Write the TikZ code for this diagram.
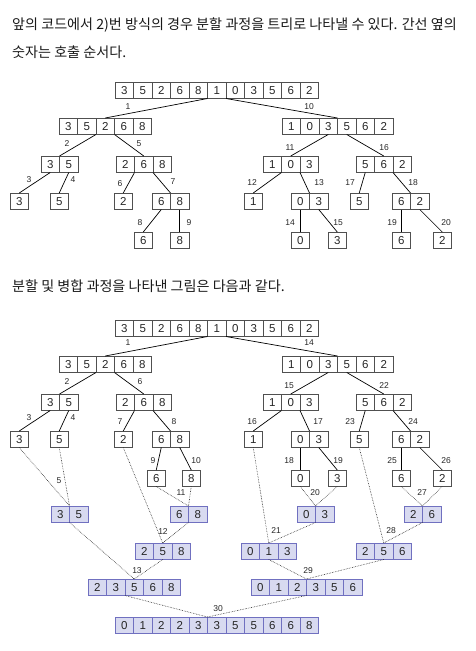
\documentclass[tikz,border=0pt]{standalone}
\usepackage{fontspec}
\setmainfont{Liberation Sans}
\newfontfamily\kofont{Noto Sans CJK KR}
\usetikzlibrary{positioning}

\definecolor{cellline}{RGB}{80,80,80}
\definecolor{mergefill}{RGB}{216,218,240}
\definecolor{mergeline}{RGB}{112,112,192}

\tikzset{
  cell/.style = {draw = cellline, line width = .9pt, minimum width = 18.5pt,
    minimum height = 16.5pt, inner sep = 0pt, outer sep = 0pt,
    font = \fontsize{11.5}{12}\selectfont, text = black!85},
  mcell/.style = {cell, draw = mergeline, fill = mergefill},
  split/.style = {line width = .7pt},
  merge/.style = {densely dotted, line width = .6pt, black!85},
  num/.style = {font = \fontsize{8.5}{9}\selectfont, inner sep = 0pt, text = black!85},
  kotext/.style = {font = \kofont\fontsize{14.1}{16}\selectfont, inner sep = 0pt,
    anchor = base west, text = black!90}
}

% one row of cells, named #2-1, #2-2, ...
\newcommand\arr[5][cell]{%
  \foreach \v [count = \i] in {#5}
    \node [#1, anchor = north west] (#2-\i) at ({#3 + (\i - 1) * 18.5}, #4) {\v};}

% split tree: #1 prefix, #2 shift down, #3 #4 x of the two leaves under 6|8
\newcommand\splittree[4]{%
  \begin{scope}[shift = {(0, #2)}]
    \arr{#1}{115}{82}{3,5,2,6,8,1,0,3,5,6,2}
    \arr{#10}{59}{118}{3,5,2,6,8}
    \arr{#11}{282}{118}{1,0,3,5,6,2}
    \arr{#100}{41}{156}{3,5}
    \arr{#101}{116}{156}{2,6,8}
    \arr{#110}{263}{156}{1,0,3}
    \arr{#111}{356}{156}{5,6,2}
    \arr{#1000}{10}{193}{3}
    \arr{#1001}{50}{193}{5}
    \arr{#1010}{114}{193}{2}
    \arr{#1011}{152}{193}{6,8}
    \arr{#1100}{244}{193}{1}
    \arr{#1101}{291}{193}{0,3}
    \arr{#1110}{350}{193}{5}
    \arr{#1111}{392}{193}{6,2}
    \arr{#10110}{#3}{232}{6}
    \arr{#10111}{#4}{232}{8}
    \arr{#11010}{291}{232}{0}
    \arr{#11011}{328}{232}{3}
    \arr{#11110}{392}{232}{6}
    \arr{#11111}{433}{232}{2}
  \end{scope}
  \foreach \a/\b in {-6.south west/0-3.north, -6.south east/1-3.north east,
      0-2.south east/00-1.north east, 0-3.south east/01-2.north,
      1-3.south/10-2.north, 1-4.south/11-2.north,
      00-1.south/000-1.north, 00-2.south/001-1.north,
      01-1.south east/010-1.north, 01-2.south east/011-1.north east,
      10-1.south east/100-1.north, 10-2.south east/101-1.north east,
      11-1.south/110-1.north, 11-2.south east/111-1.north east,
      011-1.south/0110-1.north, 011-2.south/0111-1.north,
      101-1.south/1010-1.north, 101-2.south/1011-1.north,
      111-1.south/1110-1.north, 111-2.south/1111-1.north}
    \draw [split] (#1\a) -- (#1\b);}

\begin{document}
\begin{tikzpicture}[x = 1pt, y = -1pt]
  \useasboundingbox (0, 0) rectangle (476, 651);

  \node [kotext] (intro1) at (12, 29) {앞의 코드에서 2)번 방식의 경우 분할 과정을 트리로 나타낼 수 있다. 간선 옆의};
  \node [kotext] (intro2) at (12, 57) {숫자는 호출 순서다.};
  \node [kotext] (intro3) at (12, 291) {분할 및 병합 과정을 나타낸 그림은 다음과 같다.};

  % tree of the calls
  \splittree{a}{0}{134}{170.5}
  \foreach \t/\x/\y in {1/128/107, 10/309/107, 2/67/144, 5/139/144, 11/290/148,
      16/384/148, 3/29/180, 4/73/180, 6/120/184, 7/173/182, 12/252/183,
      13/319/183, 17/350/183, 18/413/183, 8/140/223, 9/189/223, 14/290/223,
      15/338/223, 19/392/223, 20/446/223}
    \node [num] (na\t) at (\x, \y) {\t};

  % split and merge
  \splittree{b}{238}{147}{182}
  \arr[mcell]{m00}{51}{506}{3,5}
  \arr[mcell]{m011}{170}{506}{6,8}
  \arr[mcell]{m101}{297}{506}{0,3}
  \arr[mcell]{m111}{404}{506}{2,6}
  \arr[mcell]{m01}{135}{543}{2,5,8}
  \arr[mcell]{m10}{241}{543}{0,1,3}
  \arr[mcell]{m11}{356}{543}{2,5,6}
  \arr[mcell]{m0}{88}{579}{2,3,5,6,8}
  \arr[mcell]{m1}{251}{579}{0,1,2,3,5,6}
  \arr[mcell]{m}{115}{617}{0,1,2,2,3,3,5,5,6,6,8}

  \foreach \a/\b in {b000-1.south/m00-1.north east, b001-1.south/m00-1.north east,
      b0110-1.south/m011-1.north east, b0111-1.south/m011-1.north east,
      b1010-1.south/m101-1.north east, b1011-1.south/m101-1.north east,
      b1110-1.south/m111-1.north east, b1111-1.south/m111-1.north east,
      b010-1.south/m01-2.north, m011-1.south east/m01-2.north,
      b100-1.south/m10-2.north, m101-1.south east/m10-2.north,
      b110-1.south/m11-2.north, m111-1.south east/m11-2.north,
      m00-1.south east/m0-3.north, m01-2.south/m0-3.north,
      m10-2.south/m1-3.north east, m11-2.south/m1-3.north east,
      m0-3.south west/m-6.north west, m1-3.south east/m-6.north west}
    \draw [merge] (\a) -- (\b);

  \foreach \t/\x/\y in {1/128/343, 14/309/343, 2/67/382, 6/140/382, 15/289/386,
      22/384/386, 3/29/418, 4/73/418, 7/120/422, 8/174/422, 16/252/422,
      17/318/422, 23/350/422, 24/413/422, 9/153/461, 10/196/461, 18/289/461,
      19/338/461, 25/392/461, 26/446/461, 5/59/481, 11/181/493, 20/315/493,
      27/422/493, 12/163/532, 21/276/531, 28/391/531, 13/137/571, 29/308/571,
      30/218/609}
    \node [num] (nb\t) at (\x, \y) {\t};
\end{tikzpicture}
\end{document}
